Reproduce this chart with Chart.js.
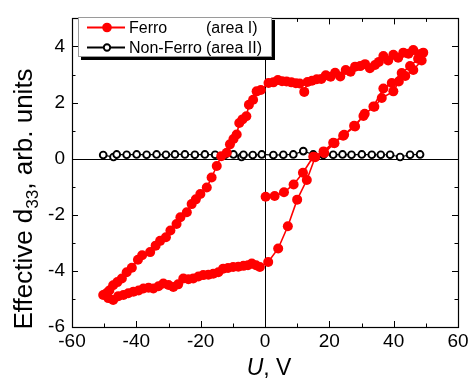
<!DOCTYPE html>
<html>
<head>
<meta charset="utf-8">
<script src="https://cdn.jsdelivr.net/npm/chart.js@4"></script>
<style>
  html, body { margin: 0; padding: 0; background: #ffffff; }
  #wrap { width: 472px; height: 379px; }
</style>
</head>
<body>
<div id="wrap"><canvas id="c" width="472" height="379"></canvas></div>
<script>
// Piezoresponse hysteresis: effective d33 versus applied voltage U
const ferroU = [
  // first (virgin) sweep 0 -> +50 V
  0.2, 3.0, 5.9, 8.9, 11.8, 15.0, 18.2, 21.2, 24.3, 27.7, 30.6, 33.7, 36.8, 39.4, 42.5, 45.1, 47.6, 49.2,
  // upper branch +50 -> 0 V
  48.0, 46.1, 44.6, 43.0, 41.4, 39.9, 38.3, 36.8, 35.4, 34.2, 32.6, 31.1, 29.6, 28.0, 26.6, 25.1, 23.4, 21.8, 20.4, 18.9,
  17.5, 16.1, 14.6, 13.2, 12.2, 10.8, 9.6, 8.2, 6.7, 5.3, 4.0, 2.6, 1.1,
  // upper branch 0 -> -50 V
  -1.3, -2.6, -3.7, -5.0, -5.8, -7.0, -8.0, -8.8, -9.8, -10.9, -11.9, -13.6, -15.0, -16.6, -18.1, -20.1, -21.5, -22.8,
  -24.3, -26.3, -27.5, -29.4, -30.8, -32.6, -34.0, -35.7, -38.2, -39.5, -41.4, -43.0, -44.5, -45.9, -47.2, -48.4, -49.3, -50.3,
  // lower branch -50 -> 0 V
  -48.7, -47.2, -45.6, -44.0, -42.5, -40.9, -39.3, -37.8, -36.2, -34.7, -33.1, -31.6, -30.0, -28.5, -27.0, -25.4, -23.8,
  -22.3, -20.7, -19.2, -17.6, -16.1, -14.5, -13.0, -11.5, -9.9, -8.3, -6.7, -5.3, -4.1, -2.8, -1.6,
  // second rising sweep 0 -> +50 V
  1.0, 4.1, 7.1, 10.0, 13.0, 15.6, 18.4, 21.6, 24.6, 28.0, 31.0, 34.0, 36.3, 39.9, 41.6, 43.6, 46.1, 48.7
];
const ferroD = [
  -1.36, -1.33, -1.20, -0.92, -0.50, 0.07, 0.26, 0.57, 0.82, 1.17, 1.52, 1.86, 2.50, 2.70, 3.05, 3.30, 3.56, 3.78,
  3.72, 3.87, 3.74, 3.78, 3.60, 3.70, 3.50, 3.66, 3.45, 3.34, 3.22, 3.37, 3.30, 3.28, 3.10, 3.16, 2.93, 3.06, 2.92, 2.97,
  2.84, 2.83, 2.78, 2.73, 2.38, 2.68, 2.69, 2.72, 2.75, 2.76, 2.80, 2.72, 2.70,
  2.45, 2.40, 2.10, 1.92, 1.51, 1.40, 1.27, 0.86, 0.70, 0.51, 0.21, 0.09, -0.26, -0.67, -1.03, -1.26, -1.45, -1.62,
  -1.91, -2.09, -2.33, -2.56, -2.80, -2.93, -3.10, -3.33, -3.44, -3.60, -3.89, -4.05, -4.27, -4.40, -4.51, -4.70, -4.80, -4.86,
  -4.97, -5.04, -4.90, -4.86, -4.80, -4.74, -4.70, -4.63, -4.60, -4.63, -4.55, -4.45, -4.50, -4.57, -4.48, -4.27, -4.30,
  -4.27, -4.20, -4.15, -4.14, -4.10, -4.05, -3.92, -3.90, -3.86, -3.85, -3.82, -3.80, -3.74, -3.80, -3.86,
  -3.68, -3.20, -2.41, -1.46, -0.76, 0.05, 0.20, 0.55, 0.85, 1.15, 1.60, 1.85, 2.16, 2.40, 2.75, 2.95, 3.16, 3.50
];
const nonFerroU = [
  -50.3, -47.1, -46.1, -43.0, -39.9, -36.8, -33.7, -30.8, -28.0, -24.9, -21.8, -18.7, -15.5, -12.4, -9.8, -7.3, -6.7,
  -3.8, -1.0, 2.6, 5.7, 8.8, 11.9, 15.0, 18.1, 21.2, 24.1, 26.9, 30.1, 33.2, 36.0, 38.9, 42.0, 45.1, 48.2
];
const nonFerroD = [
  0.13, 0.06, 0.15, 0.14, 0.15, 0.14, 0.15, 0.14, 0.15, 0.15, 0.14, 0.15, 0.14, 0.14, 0.15, 0.06, 0.14,
  0.13, 0.15, 0.13, 0.14, 0.15, 0.27, 0.15, 0.13, 0.14, 0.15, 0.14, 0.15, 0.14, 0.14, 0.14, 0.06, 0.14, 0.15
];
const xTicks = [-60, -40, -20, 0, 20, 40, 60];
const yTicks = [-6, -4, -2, 0, 2, 4];
const xRange = [-60, 60];
const yRange = [-6, 5];

const seriesNames = ['Ferro', 'Non-Ferro'];
const seriesNotes = ['(area I)', '(area II)'];

const FONT = "'Liberation Sans', Arial, sans-serif";
const toPoints = (xs, ys) => xs.map((x, i) => ({ x: x, y: ys[i] }));

// Frame, zero lines and inward tick marks on all four sides
const framePlugin = {
  id: 'frame',
  beforeDatasetsDraw(chart) {
    const { ctx, chartArea: a, scales } = chart;
    const sx = scales.x, sy = scales.y;
    ctx.save();
    ctx.strokeStyle = '#000';
    ctx.lineWidth = 1;
    const x0 = Math.round(sx.getPixelForValue(0)) + 0.5;
    const y0 = Math.round(sy.getPixelForValue(0)) + 0.5;
    ctx.beginPath();
    ctx.moveTo(x0, a.top); ctx.lineTo(x0, a.bottom);
    ctx.moveTo(a.left, y0); ctx.lineTo(a.right, y0);
    ctx.stroke();
    ctx.restore();
  },
  afterDatasetsDraw(chart) {
    const { ctx, chartArea: a, scales } = chart;
    const sx = scales.x, sy = scales.y;
    ctx.save();
    ctx.strokeStyle = '#000';
    ctx.lineWidth = 1;
    ctx.beginPath();
    for (let v = xRange[0]; v <= xRange[1]; v += 10) {
      const px = Math.round(sx.getPixelForValue(v)) + 0.5;
      const len = (v % 20 === 0) ? 6 : 3.5;
      ctx.moveTo(px, a.bottom); ctx.lineTo(px, a.bottom - len);
      ctx.moveTo(px, a.top); ctx.lineTo(px, a.top + len);
    }
    for (let v = yRange[0]; v <= yRange[1]; v += 1) {
      const py = Math.round(sy.getPixelForValue(v)) + 0.5;
      const len = (v % 2 === 0) ? 6 : 3.5;
      ctx.moveTo(a.left, py); ctx.lineTo(a.left + len, py);
      ctx.moveTo(a.right, py); ctx.lineTo(a.right - len, py);
    }
    ctx.stroke();
    ctx.lineWidth = 1.2;
    ctx.strokeRect(Math.round(a.left) + 0.5, Math.round(a.top) + 0.5,
                   Math.round(a.right - a.left), Math.round(a.bottom - a.top));
    ctx.restore();
  }
};

// Boxed legend with a drop shadow, plus the two axis titles
const annotatePlugin = {
  id: 'annotate',
  afterDraw(chart) {
    const { ctx, chartArea: a } = chart;
    ctx.save();
    // legend box
    const bx = 78, by = 17, bw = 194, bh = 40;
    ctx.fillStyle = '#000';
    ctx.fillRect(bx + 3, by + 3, bw, bh);
    ctx.fillStyle = '#fff';
    ctx.fillRect(bx, by, bw, bh);
    ctx.strokeStyle = '#9a9a9a';
    ctx.lineWidth = 1;
    ctx.strokeRect(bx + 0.5, by + 0.5, bw - 1, bh - 1);

    const rows = [27, 47];
    chart.data.datasets.forEach((ds, i) => {
      const ry = rows[i] + 0.5;
      ctx.strokeStyle = ds.borderColor;
      ctx.lineWidth = 1.8;
      ctx.beginPath();
      ctx.moveTo(87, ry); ctx.lineTo(125, ry);
      ctx.stroke();
      ctx.beginPath();
      ctx.arc(107, ry, i === 0 ? 4.8 : 3.2, 0, Math.PI * 2);
      ctx.fillStyle = ds.pointBackgroundColor;
      ctx.fill();
      ctx.lineWidth = ds.pointBorderWidth;
      ctx.strokeStyle = ds.pointBorderColor;
      if (ds.pointBorderWidth > 0) ctx.stroke();
      ctx.fillStyle = '#000';
      ctx.font = '16px ' + FONT;
      ctx.textBaseline = 'middle';
      ctx.textAlign = 'left';
      ctx.fillText(seriesNames[i], 129, ry + 1);
      ctx.fillText(seriesNotes[i], 206, ry + 1);
    });

    // x-axis title: italic U
    const xc = (a.left + a.right) / 2 + 4;
    ctx.font = 'italic 23px ' + FONT;
    const wU = ctx.measureText('U').width;
    ctx.font = '23px ' + FONT;
    const wRest = ctx.measureText(', V').width;
    let tx = xc - (wU + wRest) / 2;
    ctx.textBaseline = 'alphabetic';
    ctx.fillStyle = '#000';
    ctx.font = 'italic 23px ' + FONT;
    ctx.fillText('U', tx, 375);
    ctx.font = '23px ' + FONT;
    ctx.fillText(', V', tx + wU, 375);

    // y-axis title with subscript
    const partA = 'Effective d', sub = '33', partB = ', arb. units';
    ctx.font = '26px ' + FONT;
    const wA = ctx.measureText(partA).width;
    const wB = ctx.measureText(partB).width;
    ctx.font = '17px ' + FONT;
    const wS = ctx.measureText(sub).width;
    const total = wA + wS + wB;
    ctx.translate(32, 199);
    ctx.rotate(-Math.PI / 2);
    let p = -total / 2;
    ctx.font = '26px ' + FONT;
    ctx.fillText(partA, p, 0); p += wA;
    ctx.font = '17px ' + FONT;
    ctx.fillText(sub, p, 6); p += wS;
    ctx.font = '26px ' + FONT;
    ctx.fillText(partB, p, 0);
    ctx.restore();
  }
};

new Chart(document.getElementById('c'), {
  type: 'scatter',
  data: {
    datasets: [
      {
        label: seriesNames[0],
        data: toPoints(ferroU, ferroD),
        showLine: true,
        borderColor: '#ff0000',
        borderWidth: 1.6,
        pointRadius: 5,
        pointBackgroundColor: '#ff0000',
        pointBorderColor: '#ff0000',
        pointBorderWidth: 0,
        tension: 0
      },
      {
        label: seriesNames[1],
        data: toPoints(nonFerroU, nonFerroD),
        showLine: true,
        borderColor: '#000000',
        borderWidth: 1.2,
        pointRadius: 3.4,
        pointBackgroundColor: '#ffffff',
        pointBorderColor: '#000000',
        pointBorderWidth: 1.9,
        tension: 0
      }
    ]
  },
  options: {
    responsive: false,
    animation: false,
    events: [],
    layout: { padding: { top: 15, right: 14, left: 0, bottom: 0 } },
    plugins: { legend: { display: false }, tooltip: { enabled: false } },
    scales: {
      x: {
        type: 'linear',
        min: xRange[0], max: xRange[1],
        grid: { display: false, drawTicks: false },
        border: { display: false },
        afterBuildTicks: (s) => { s.ticks = xTicks.map(v => ({ value: v })); },
        afterFit: (s) => { s.height = 52; },
        ticks: { color: '#000', font: { family: FONT, size: 19 }, padding: 3, maxRotation: 0, autoSkip: false }
      },
      y: {
        type: 'linear',
        min: yRange[0], max: yRange[1],
        grid: { display: false, drawTicks: false },
        border: { display: false },
        afterBuildTicks: (s) => { s.ticks = yTicks.map(v => ({ value: v })); },
        afterFit: (s) => { s.width = 72; },
        ticks: { color: '#000', font: { family: FONT, size: 19 }, padding: 7, autoSkip: false }
      }
    }
  },
  plugins: [framePlugin, annotatePlugin]
});
</script>
</body>
</html>
